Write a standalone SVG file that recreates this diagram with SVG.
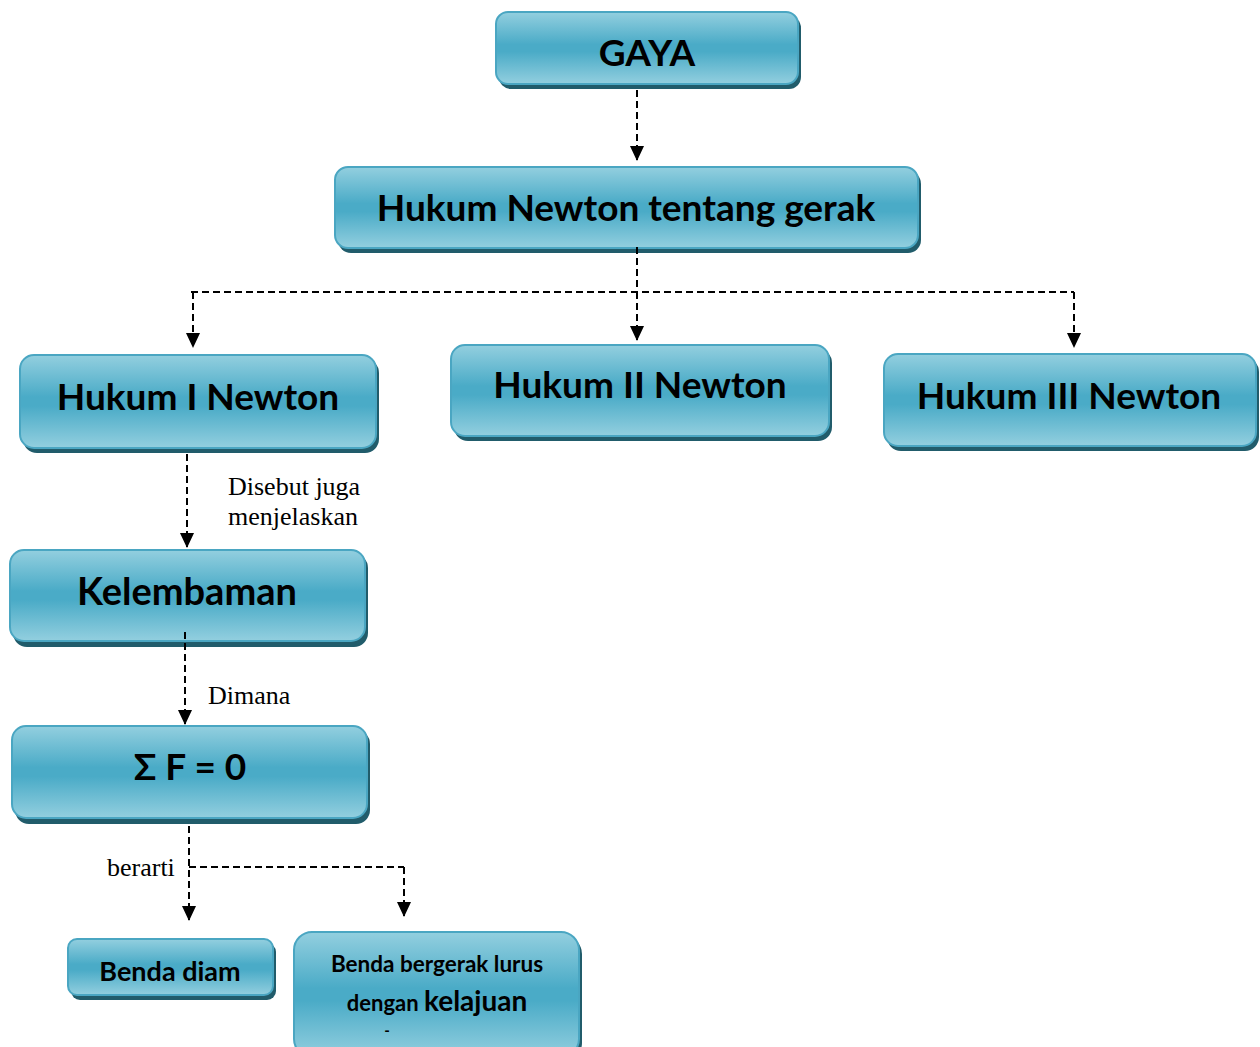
<svg xmlns="http://www.w3.org/2000/svg" width="1260" height="1047" viewBox="0 0 1260 1047">
<defs>
<linearGradient id="g" x1="0" y1="0" x2="0" y2="1">
<stop offset="0" stop-color="#93cfdf"/>
<stop offset="0.45" stop-color="#4aabc7"/>
<stop offset="0.55" stop-color="#4aabc7"/>
<stop offset="1" stop-color="#93cfdf"/>
</linearGradient>
<marker id="ah" markerWidth="16" markerHeight="16" refX="14" refY="7" orient="auto" markerUnits="userSpaceOnUse">
<path d="M0,0 L15,7 L0,14 Z" fill="#000"/>
</marker>
</defs>
<style>
.sh{fill:#215c6b}
.bx{fill:url(#g);stroke:#4aa6c2;stroke-width:2}
.t{font-family:Lato,"Open Sans",sans-serif;font-weight:bold;fill:#000;text-anchor:middle}
.c{fill:none;stroke:#000;stroke-width:2;stroke-dasharray:7 4}
.a{marker-end:url(#ah)}
.l{font-family:"Liberation Serif",serif;font-size:26px;fill:#000}
</style>
<rect width="1260" height="1047" fill="#fff"/>
<g id="gaya">
<rect class="sh" x="499" y="16" width="302" height="73" rx="12"/>
<rect class="bx" x="496" y="12" width="302" height="72" rx="12"/>
<text class="t" x="647" y="66" font-size="37">GAYA</text>
</g>
<g id="hukum-newton">
<rect class="sh" x="338" y="171" width="583" height="82" rx="13"/>
<rect class="bx" x="335" y="167" width="583" height="81" rx="13"/>
<text class="t" x="626" y="221" font-size="37">Hukum Newton tentang gerak</text>
</g>
<g id="hukum-1">
<rect class="sh" x="23" y="359" width="356" height="94" rx="14"/>
<rect class="bx" x="20" y="355" width="356" height="93" rx="14"/>
<text class="t" x="198" y="410" font-size="37">Hukum I Newton</text>
</g>
<g id="hukum-2">
<rect class="sh" x="454" y="349" width="378" height="92" rx="14"/>
<rect class="bx" x="451" y="345" width="378" height="91" rx="14"/>
<text class="t" x="640" y="398" font-size="37">Hukum II Newton</text>
</g>
<g id="hukum-3">
<rect class="sh" x="887" y="358" width="372" height="93" rx="14"/>
<rect class="bx" x="884" y="354" width="372" height="92" rx="14"/>
<text class="t" x="1069" y="409" font-size="37">Hukum III Newton</text>
</g>
<g id="kelembaman">
<rect class="sh" x="13" y="554" width="355" height="93" rx="14"/>
<rect class="bx" x="10" y="550" width="355" height="91" rx="14"/>
<text class="t" x="187" y="605" font-size="38">Kelembaman</text>
</g>
<g id="sigma-f">
<rect class="sh" x="15" y="730" width="355" height="94" rx="14"/>
<rect class="bx" x="12" y="726" width="355" height="92" rx="14"/>
<text class="t" x="190" y="780" font-size="37">Σ F = 0</text>
</g>
<g id="benda-diam">
<rect class="sh" x="71" y="943" width="205" height="57" rx="9"/>
<rect class="bx" x="68" y="939" width="205" height="56" rx="9"/>
<text class="t" x="170" y="981" font-size="27">Benda diam</text>
</g>
<g id="benda-bergerak">
<rect class="sh" x="297" y="936" width="285" height="125" rx="18"/>
<rect class="bx" x="294" y="932" width="285" height="125" rx="18"/>
<text class="t" x="437" y="972" font-size="22.5">Benda bergerak lurus</text>
<text class="t" x="437" y="1011"><tspan font-size="22">dengan </tspan><tspan font-size="28">kelajuan</tspan></text>
<text class="t" x="387" y="1036" font-size="15">-</text>
</g>
<g id="connectors">
<path class="c a" d="M637,90 V160"/>
<path class="c" d="M637,247 V292"/>
<path class="c" d="M191,292 H1074"/>
<path class="c a" d="M193,292 V347"/>
<path class="c a" d="M637,292 V340"/>
<path class="c a" d="M1074,292 V347"/>
<path class="c a" d="M187,454 V547"/>
<path class="c a" d="M185,632 V724"/>
<path class="c a" d="M189,826 V920"/>
<path class="c" d="M189,867 H404"/>
<path class="c a" d="M404,867 V916"/>
<text class="l" x="228" y="495">Disebut juga</text>
<text class="l" x="228" y="525">menjelaskan</text>
<text class="l" x="208" y="704">Dimana</text>
<text class="l" x="107" y="876">berarti</text>
</g>
</svg>
